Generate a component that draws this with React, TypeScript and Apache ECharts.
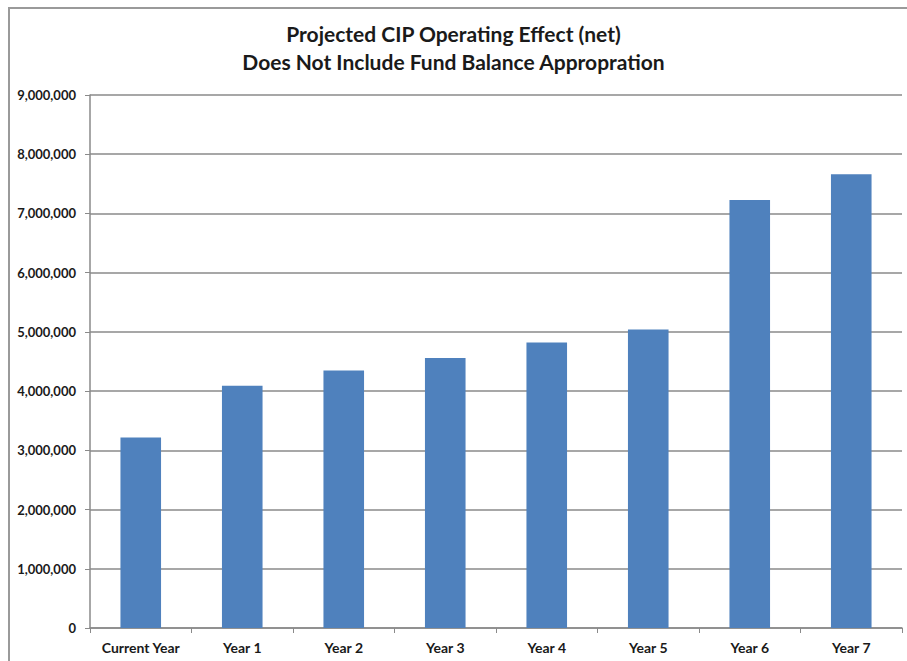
import React, { useEffect, useRef } from "react";
import * as echarts from "echarts";

const categories = ["Current Year", "Year 1", "Year 2", "Year 3", "Year 4", "Year 5", "Year 6", "Year 7"];
const values = [3215000, 4090000, 4350000, 4560000, 4820000, 5040000, 7225000, 7660000];
const titleLines = ["Projected CIP Operating Effect (net)", "Does Not Include Fund Balance Appropration"];

export default function App() {
  const ref = useRef<HTMLDivElement>(null);
  useEffect(() => {
    const chart = echarts.init(ref.current!, null, { renderer: "svg" });
    chart.setOption({
      animation: false,
      backgroundColor: "#ffffff",
      title: {
        text: titleLines.join("\n"),
        left: "center",
        top: 14,
        textStyle: { fontFamily: "Lato", fontWeight: "bold", fontSize: 21, lineHeight: 28, color: "#1a1a1a" },
      },
      graphic: [
        {
          type: "rect",
          shape: { x: 9, y: 8, width: 1000, height: 1000 },
          style: { fill: "none", stroke: "#9a9a9a", lineWidth: 2 },
          silent: true,
        },
      ],
      grid: { left: 90, right: 5, top: 95, bottom: 33 },
      xAxis: {
        type: "category",
        data: categories,
        axisLine: { lineStyle: { color: "#8a8a8a", width: 1.5 } },
        axisTick: { show: true, length: 5, lineStyle: { color: "#8a8a8a" } },
        axisLabel: { interval: 0, fontFamily: "Lato", fontWeight: "bold", fontSize: 14, color: "#1a1a1a", margin: 12 },
      },
      yAxis: {
        type: "value",
        min: 0,
        max: 9000000,
        interval: 1000000,
        axisLine: { show: true, lineStyle: { color: "#8a8a8a", width: 1.5 } },
        axisTick: { show: true, length: 5, lineStyle: { color: "#8a8a8a" } },
        splitLine: { lineStyle: { color: "#8a8a8a", width: 1.5 } },
        axisLabel: {
          fontFamily: "Lato",
          fontWeight: "bold",
          fontSize: 13,
          color: "#1a1a1a",
          margin: 14,
          formatter: (v: number) => v.toLocaleString("en-US"),
        },
      },
      series: [
        {
          type: "bar",
          data: values,
          barWidth: "40%",
          itemStyle: { color: "#4F81BD" },
        },
      ],
    });
    return () => chart.dispose();
  }, []);
  return <div ref={ref} style={{ width: 907, height: 661, position: "absolute", left: 0, top: 0 }} />;
}
